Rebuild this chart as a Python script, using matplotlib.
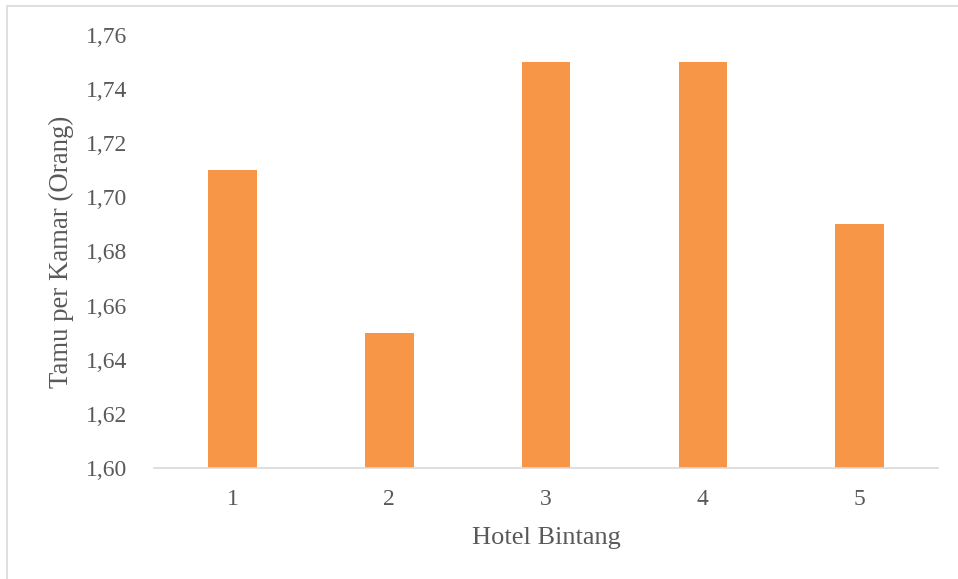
import matplotlib
matplotlib.use("Agg")
import matplotlib.pyplot as plt
from matplotlib.patches import Rectangle

categories = ["1", "2", "3", "4", "5"]
values = [1.71, 1.65, 1.75, 1.75, 1.69]
yticks = [1.60, 1.62, 1.64, 1.66, 1.68, 1.70, 1.72, 1.74, 1.76]

plt.rcParams['font.family'] = ['Liberation Serif', 'DejaVu Serif']
text_color = '#595959'

fig = plt.figure(figsize=(9.58, 5.79), dpi=100)
ax = fig.add_axes([0.1608, 0.1917, 0.8184, 0.7479])

x = range(len(categories))
ax.bar(x, values, width=0.31, color='#F79646', zorder=2)

ax.set_xlim(-0.5, len(categories) - 0.5)
ax.set_ylim(1.60, 1.76)
ax.set_xticks(list(x))
ax.set_xticklabels(categories)
ax.set_yticks(yticks)
ax.set_yticklabels([f"{v:.2f}".replace('.', ',') for v in yticks])

for side in ['top', 'right', 'left']:
    ax.spines[side].set_visible(False)
ax.spines['bottom'].set_color('#D9D9D9')
ax.spines['bottom'].set_linewidth(1.2)
ax.tick_params(axis='both', length=0, labelsize=17, colors=text_color)
ax.tick_params(axis='x', pad=15)
ax.tick_params(axis='y', pad=19.5)

ax.set_xlabel("Hotel Bintang", fontsize=19, color=text_color, labelpad=12)
ax.set_ylabel("Tamu per Kamar (Orang)", fontsize=19.3, color=text_color, labelpad=8.5)

# outer chart frame
fig.patches.append(Rectangle((7 / 958, -0.05), 1.2, 1 - 6 / 579 + 0.05,
                             transform=fig.transFigure, fill=False,
                             edgecolor='#D9D9D9', linewidth=1.2))

fig.savefig("out.png", dpi=100)
